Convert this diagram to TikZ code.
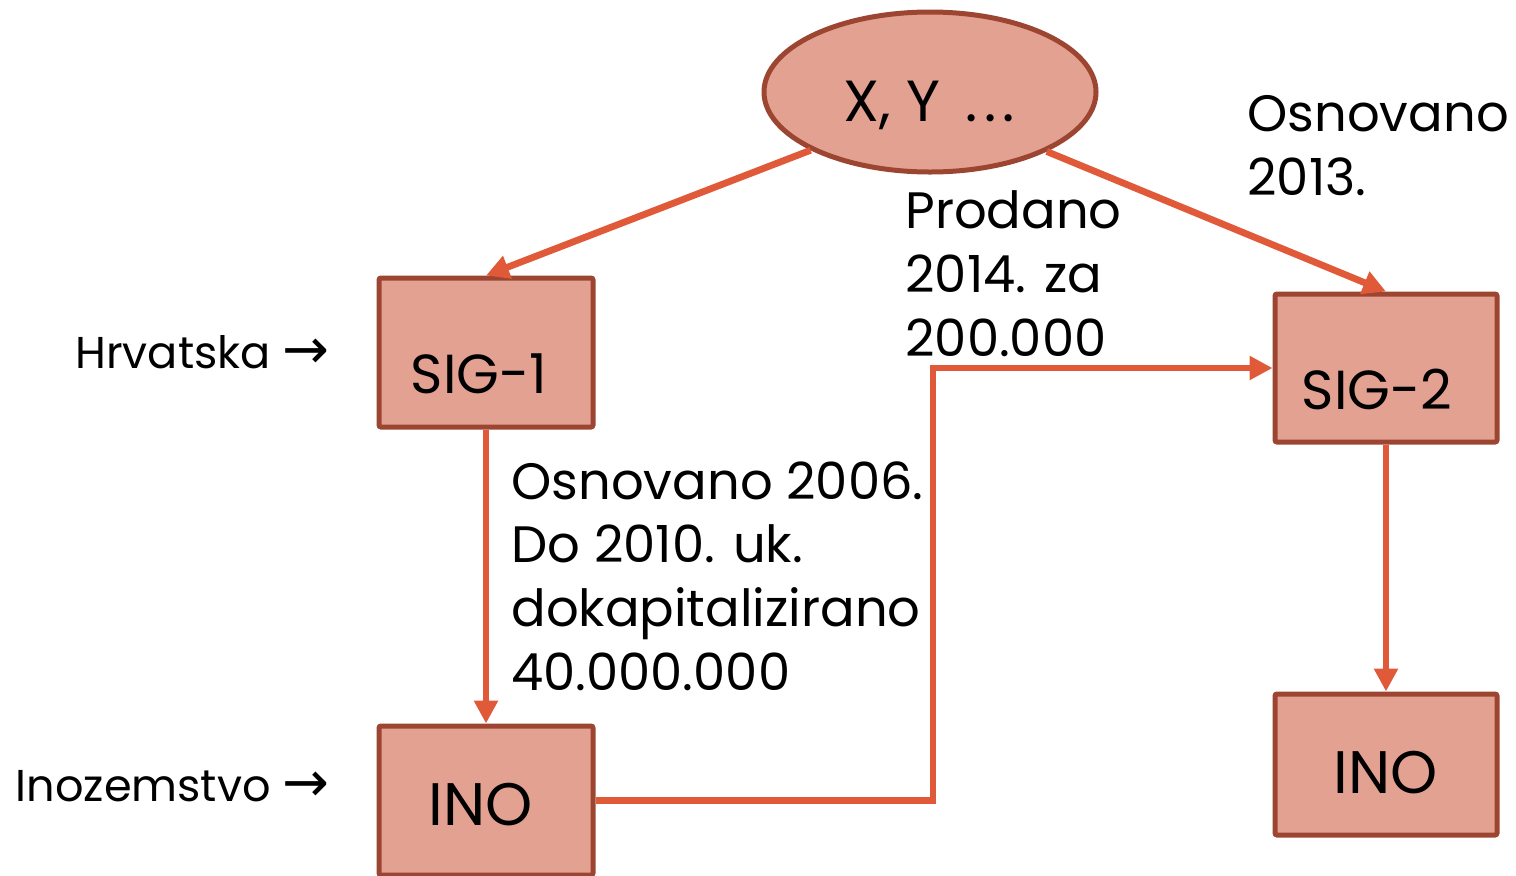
\documentclass[tikz,border=0pt]{standalone}
\usepackage{fontspec}
\setmainfont{Poppins}
\newfontfamily\arrfont{DejaVu Sans}
\usetikzlibrary{shapes.geometric,arrows.meta}
\definecolor{boxfill}{HTML}{E3A192}
\definecolor{boxline}{HTML}{9C4632}
\definecolor{arrline}{HTML}{E05A3A}
\begin{document}
\begin{tikzpicture}[x=0.5pt,y=-0.5pt,
  box/.style={draw=boxline, fill=boxfill, line width=2.5pt, inner sep=0pt, rounded corners=1pt},
  oval/.style={ellipse, draw=boxline, fill=boxfill, line width=2.5pt, inner sep=0pt, minimum width=166pt, minimum height=80pt},
  boxtext/.style={inner sep=0pt, anchor=base, font=\fontsize{30}{36}\selectfont},
  sigtext/.style={boxtext, font=\fontsize{27.5}{33}\selectfont},
  txt/.style={inner sep=0pt, anchor=base west, align=left, font=\fontsize{25.6}{31.8}\selectfont},
  side/.style={inner sep=0pt, anchor=base east, font=\fontsize{22.3}{27}\selectfont},
  conn/.style={draw=arrline, line width=3.4pt, miter limit=10},
  arr/.style={conn, -{Triangle[length=11.5pt,width=11.5pt]}}]
\useasboundingbox (0,0) rectangle (1516,875);
% shapes
\node[oval] (top) at (930,92) {};
\node[box, minimum width=107pt, minimum height=74.5pt] (sig1) at (486,352.5) {};
\node[box, minimum width=107pt, minimum height=74.5pt] (ino1) at (486,800.5) {};
\node[box, minimum width=111pt, minimum height=74pt] (sig2) at (1386,368) {};
\node[box, minimum width=111pt, minimum height=70.5pt] (ino2) at (1386,764.5) {};
% box texts
\node[boxtext, font=\fontsize{29}{34}\selectfont] (topt) at (929,121) {X, Y \hspace{5pt}.\kern3pt.\kern3pt.};
\node[sigtext] (sig1t) at (479,393) {SIG-1};
\node[boxtext] (ino1t) at (481,825) {INO};
\node[sigtext] (sig2t) at (1377,409) {SIG-2};
\node[boxtext] (ino2t) at (1386,793) {INO};
% connectors
\draw[arr] (top.206.6) -- (sig1.north);
\draw[arr] (top.333.8) -- (sig2.north);
\draw[arr] (sig1.south) -- (ino1.north);
\draw[arr] (sig2.south) -- (ino2.north);
\coordinate (bend) at (933,368);
\draw[arr] (ino1.east) -| (bend) -- (sig2.west);
% labels
\node[side] (hr) at (330,368) {Hrvatska {\arrfont\fontsize{28}{30}\selectfont →}};
\node[side] (inoz) at (330,801) {Inozemstvo {\arrfont\fontsize{28}{30}\selectfont →}};
\node[txt] (l1) at (511,690) {Osnovano 2006.\\Do 2010. uk.\\dokapitalizirano\\40.000.000};
\node[txt] (l2) at (905,356) {Prodano\\2014. za\\200.000};
\node[txt] (l3) at (1247,195) {Osnovano\\2013.};
\end{tikzpicture}
\end{document}
